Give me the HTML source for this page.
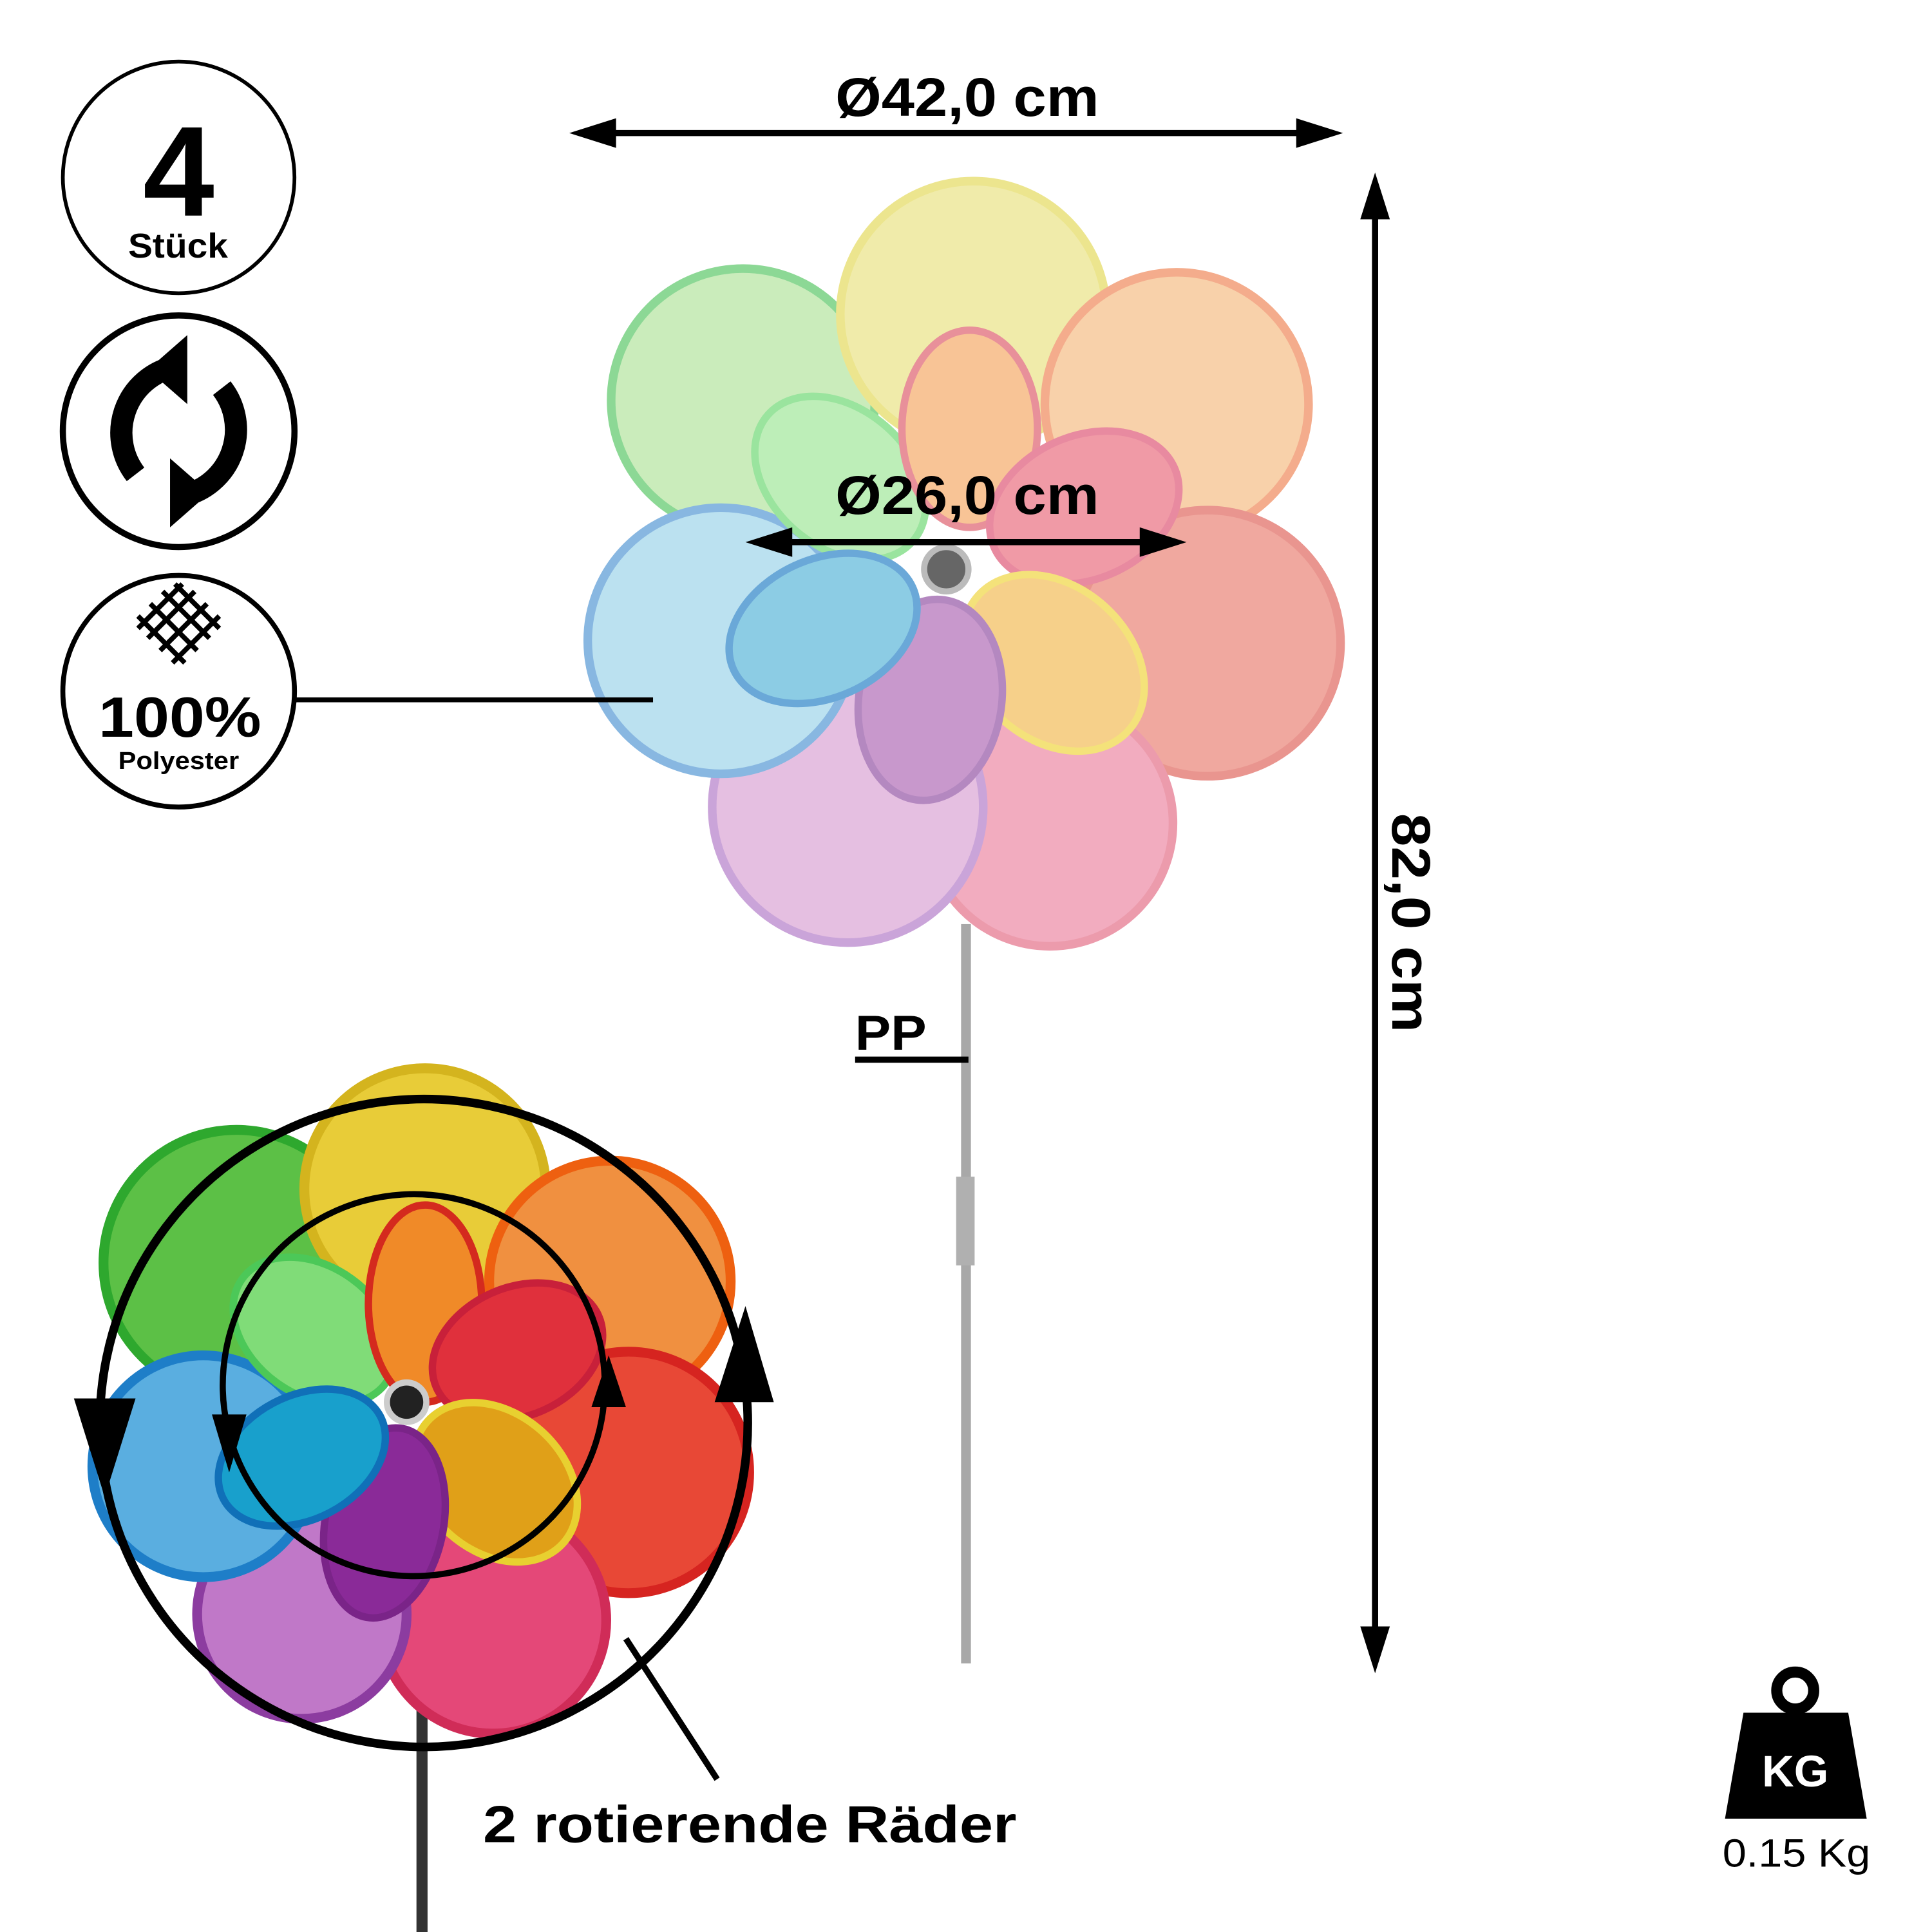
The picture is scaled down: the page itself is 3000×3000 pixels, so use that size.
<!DOCTYPE html>
<html><head><meta charset="utf-8"><style>
html,body{margin:0;padding:0;background:#fff;}
svg{display:block;}
text{font-family:"Liberation Sans",sans-serif;font-weight:bold;}
</style></head><body>
<svg width="3000" height="3000" viewBox="0 0 1568 1568" xmlns="http://www.w3.org/2000/svg">
<rect width="1568" height="1568" fill="#fff"/>

<!-- top stick -->
<rect x="780" y="750" width="8" height="600" fill="#a8a8a8"/>
<rect x="776" y="955" width="15" height="72" fill="#b0b0b0"/>

<!-- top flower big petals -->
<g stroke-width="7" opacity="0.95">
<circle cx="603" cy="325" r="107" fill="#c8ecb8" stroke="#86d690"/>
<circle cx="790" cy="255" r="108" fill="#f0eaa6" stroke="#ece488"/>
<circle cx="955" cy="328" r="107" fill="#f8cfa6" stroke="#f4a886"/>
<circle cx="980" cy="522" r="108" fill="#f0a49a" stroke="#e8908a"/>
<circle cx="852" cy="668" r="100" fill="#f2a8bc" stroke="#ec96a8"/>
<circle cx="688" cy="655" r="110" fill="#e4bce0" stroke="#c8a0d8"/>
<circle cx="585" cy="520" r="108" fill="#b8e0f0" stroke="#82b4e0"/>
</g>
<g stroke-width="6">
<ellipse cx="0" cy="0" rx="78" ry="56" transform="translate(682,388) rotate(41)" fill="#bdeeb8" stroke="#9ae49e"/>
<ellipse cx="0" cy="0" rx="55" ry="80" transform="translate(787,348)" fill="#f8c496" stroke="#e8909a"/>
<ellipse cx="0" cy="0" rx="80" ry="58" transform="translate(880,412) rotate(-24)" fill="#f09aa6" stroke="#e88aa0"/>
<ellipse cx="0" cy="0" rx="82" ry="62" transform="translate(855,538) rotate(42)" fill="#f6d08a" stroke="#f4e27a"/>
<ellipse cx="0" cy="0" rx="58" ry="82" transform="translate(755,568) rotate(8)" fill="#c898cc" stroke="#b488c0"/>
<ellipse cx="0" cy="0" rx="80" ry="56" transform="translate(668,510) rotate(-25)" fill="#8ccce4" stroke="#6aa8d8"/>
</g>
<circle cx="768" cy="462" r="18" fill="#666" stroke="#bbb" stroke-width="5"/>

<!-- bottom flower -->
<rect x="338" y="1380" width="9" height="188" fill="#333"/>
<g stroke-width="8">
<circle cx="192" cy="1025" r="108" fill="#5cc046" stroke="#2ea82e"/>
<circle cx="345" cy="965" r="98" fill="#e8cc38" stroke="#d4b41e"/>
<circle cx="495" cy="1040" r="98" fill="#f09040" stroke="#ee6010"/>
<circle cx="510" cy="1195" r="98" fill="#e84836" stroke="#d62420"/>
<circle cx="400" cy="1315" r="92" fill="#e44878" stroke="#d02c58"/>
<circle cx="245" cy="1310" r="85" fill="#c078c8" stroke="#8c3ca0"/>
<circle cx="165" cy="1190" r="90" fill="#5aaee0" stroke="#1e7ec8"/>
</g>
<g stroke-width="6">
<ellipse cx="0" cy="0" rx="72" ry="52" transform="translate(255,1080) rotate(36)" fill="#80dc78" stroke="#4cc858"/>
<ellipse cx="0" cy="0" rx="46" ry="80" transform="translate(345,1058)" fill="#f08a28" stroke="#d42a1e"/>
<ellipse cx="0" cy="0" rx="72" ry="52" transform="translate(420,1097) rotate(-24)" fill="#e0303c" stroke="#c8203a"/>
<ellipse cx="0" cy="0" rx="74" ry="56" transform="translate(402,1203) rotate(42)" fill="#e0a018" stroke="#e8d030"/>
<ellipse cx="0" cy="0" rx="48" ry="78" transform="translate(312,1236) rotate(11)" fill="#8a2a98" stroke="#7a2488"/>
<ellipse cx="0" cy="0" rx="72" ry="50" transform="translate(245,1183) rotate(-28)" fill="#18a0cc" stroke="#1070b8"/>
</g>
<circle cx="330" cy="1138" r="16" fill="#222" stroke="#ccc" stroke-width="5"/>

<!-- rotation circles -->
<path d="M85,1200 A262,262 0 1 1 603,1110" fill="none" stroke="#000" stroke-width="7"/>
<path d="M603,1110 A262,262 0 0 1 85,1200" fill="none" stroke="#000" stroke-width="7"/>
<path d="M60,1135 L110,1135 L85,1215 z" fill="#000"/>
<path d="M580,1138 L628,1138 L605,1060 z" fill="#000"/>
<path d="M185,1160 A155,155 0 1 1 490,1140" fill="none" stroke="#000" stroke-width="5"/>
<path d="M490,1140 A155,155 0 0 1 185,1160" fill="none" stroke="#000" stroke-width="5"/>
<path d="M172,1148 L200,1148 L186,1195 z" fill="#000"/>
<path d="M480,1142 L508,1142 L494,1100 z" fill="#000"/>
<line x1="508" y1="1330" x2="582" y2="1444" stroke="#000" stroke-width="5"/>
<text x="392" y="1495" font-size="42" textLength="433" lengthAdjust="spacingAndGlyphs">2 rotierende Räder</text>

<!-- dimensions -->
<line x1="480" y1="108" x2="1072" y2="108" stroke="#000" stroke-width="5"/>
<path d="M462,108 L500,96 L500,120 z" fill="#000"/>
<path d="M1090,108 L1052,96 L1052,120 z" fill="#000"/>
<text x="678" y="94" font-size="44" textLength="214" lengthAdjust="spacingAndGlyphs">Ø42,0 cm</text>

<line x1="625" y1="440" x2="945" y2="440" stroke="#000" stroke-width="5"/>
<path d="M605,440 L643,428 L643,452 z" fill="#000"/>
<path d="M963,440 L925,428 L925,452 z" fill="#000"/>
<text x="678" y="417" font-size="44" textLength="214" lengthAdjust="spacingAndGlyphs">Ø26,0 cm</text>

<line x1="1116" y1="160" x2="1116" y2="1340" stroke="#000" stroke-width="5"/>
<path d="M1116,140 L1104,178 L1128,178 z" fill="#000"/>
<path d="M1116,1358 L1104,1320 L1128,1320 z" fill="#000"/>
<text x="0" y="0" font-size="44" textLength="178" lengthAdjust="spacingAndGlyphs" transform="translate(1130,660) rotate(90)">82,0 cm</text>

<text x="694" y="852" font-size="40" textLength="58" lengthAdjust="spacingAndGlyphs">PP</text>
<line x1="694" y1="860" x2="786" y2="860" stroke="#000" stroke-width="5"/>

<!-- left icons -->
<circle cx="145" cy="144" r="94" fill="#fff" stroke="#000" stroke-width="3"/>
<text x="145" y="175" font-size="104" text-anchor="middle">4</text>
<text x="104" y="209" font-size="28" textLength="81" lengthAdjust="spacingAndGlyphs">Stück</text>

<circle cx="145" cy="350" r="94" fill="#fff" stroke="#000" stroke-width="5"/>
<path d="M110,385 A55,55 0 0 1 140,298" fill="none" stroke="#000" stroke-width="18"/>
<path d="M180,315 A55,55 0 0 1 150,402" fill="none" stroke="#000" stroke-width="18"/>
<path d="M120,300 L152,272 L152,328 z" fill="#000"/>
<path d="M170,400 L138,372 L138,428 z" fill="#000"/>

<circle cx="145" cy="561" r="94" fill="#fff" stroke="#000" stroke-width="4"/>
<g stroke="#000" stroke-width="4">
<line x1="112" y1="500" x2="150" y2="538"/><line x1="122" y1="490" x2="160" y2="528"/>
<line x1="132" y1="480" x2="170" y2="518"/><line x1="142" y1="474" x2="178" y2="510"/>
<line x1="178" y1="500" x2="140" y2="538"/><line x1="168" y1="490" x2="130" y2="528"/>
<line x1="158" y1="480" x2="120" y2="518"/><line x1="148" y1="474" x2="112" y2="510"/>
</g>
<text x="80" y="598" font-size="46" textLength="132" lengthAdjust="spacingAndGlyphs">100%</text>
<text x="96" y="624" font-size="20" textLength="98" lengthAdjust="spacingAndGlyphs">Polyester</text>
<line x1="239" y1="568" x2="530" y2="568" stroke="#000" stroke-width="4"/>

<!-- weight -->
<circle cx="1457" cy="1372" r="15" fill="none" stroke="#000" stroke-width="9"/>
<path d="M1415,1390 L1500,1390 L1515,1476 L1400,1476 z" fill="#000"/>
<text x="1457" y="1450" font-size="36" fill="#fff" text-anchor="middle">KG</text>
<text x="1398" y="1515" font-size="32" style="font-weight:normal" textLength="120" lengthAdjust="spacingAndGlyphs">0.15 Kg</text>
</svg>
</body></html>
